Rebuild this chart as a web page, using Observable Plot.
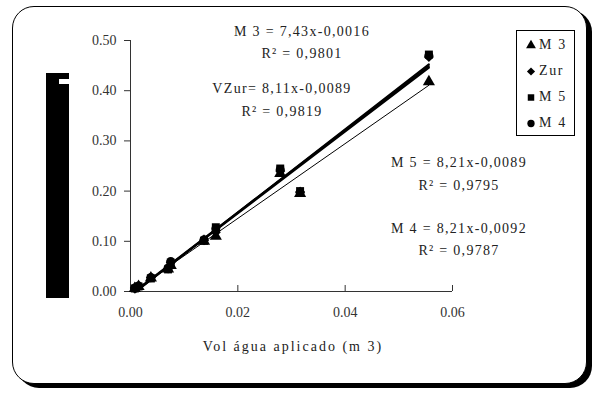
<!DOCTYPE html>
<html><head><meta charset="utf-8">
<script src="https://cdn.jsdelivr.net/npm/d3@7"></script>
<script src="https://cdn.jsdelivr.net/npm/@observablehq/plot@0.6"></script>
<style>
html,body{margin:0;padding:0;background:#fff;}
#wrap{position:relative;width:598px;height:394px;overflow:hidden;font-family:"Liberation Serif","DejaVu Serif","Times New Roman",serif;}
#frame{position:absolute;left:12px;top:6px;width:573px;height:376px;border:1.5px solid #000;border-radius:22px;box-shadow:5px 4px 0 #000;background:#fff;}
#block{position:absolute;left:46px;top:73px;width:23px;height:225px;background:#000;}
#notch{position:absolute;left:59px;top:79px;width:10px;height:5px;background:#fff;}
#chart{position:absolute;left:0;top:0;}
.lbl{position:absolute;transform:translate(-50%,-50%);white-space:nowrap;font-size:14px;letter-spacing:1.3px;color:#222;}
#legend{position:absolute;left:516px;top:30px;width:57px;height:104px;border:1px solid #000;background:#fff;}
.li{position:absolute;left:8px;font-size:14px;letter-spacing:1.6px;color:#222;display:flex;align-items:center;transform:translateY(-50%);}
.li svg{margin-right:2px;}
</style></head>
<body>
<div id="wrap">
  <div id="frame"></div>
  <div id="block"></div><div id="notch"></div>
  <div id="chart"></div>
  <div id="legend"></div>
</div>
<script>
// ---- data ----
const series = ["M 3", "Zur", "M 5", "M 4"];
const symbols = ["triangle", "diamond2", "square", "circle"];
const volume = [0.0008, 0.0015, 0.0038, 0.0070, 0.0075, 0.0137, 0.0159, 0.0279, 0.0316, 0.0556];
const m3  = [0.006, 0.010, 0.027, 0.045, 0.052, 0.100, 0.110, 0.235, 0.195, 0.418];
const zur = [0.007, 0.011, 0.028, 0.046, 0.058, 0.102, 0.118, 0.240, 0.198, 0.467];
const m5  = [0.006, 0.010, 0.026, 0.044, 0.055, 0.101, 0.128, 0.245, 0.200, 0.472];
const m4  = [0.007, 0.011, 0.028, 0.047, 0.060, 0.103, 0.125, 0.243, 0.197, 0.470];
const xTicks = [0, 0.02, 0.04, 0.06];
const yTicks = [0, 0.1, 0.2, 0.3, 0.4, 0.5];
const equations = [
  "M 3 = 7,43x-0,0016", "R² = 0,9801",
  "VZur= 8,11x-0,0089", "R² = 0,9819",
  "M 5 = 8,21x-0,0089", "R² = 0,9795",
  "M 4 = 8,21x-0,0092", "R² = 0,9787"
];
const xLabel = "Vol água aplicado (m 3)";

const values = [m3, zur, m5, m4];
const rows = [];
series.forEach((s, i) => volume.forEach((v, j) => rows.push({series: s, x: v, y: values[i][j]})));

const fmt = d => d.toFixed(2);
const font = "'Liberation Serif', 'DejaVu Serif', 'Times New Roman', serif";
const chart = Plot.plot({
  width: 598, height: 394,
  marginLeft: 130, marginRight: 146, marginTop: 40, marginBottom: 103,
  style: {background: "transparent", fontFamily: font, fontSize: "14px", color: "#333"},
  x: {domain: [0, 0.06]},
  y: {domain: [0, 0.5]},
  symbol: {domain: series, range: symbols},
  marks: [
    Plot.axisY({ticks: yTicks, tickSize: 6, tickPadding: 8, tickFormat: fmt, label: null, stroke: "#333", style: {letterSpacing: "1.8px"}}),
    Plot.axisX({ticks: xTicks, tickSize: 6, dy: -6, text: null, label: null, stroke: "#333"}),
    Plot.axisX({ticks: xTicks, tickSize: 0, tickPadding: 16, tickFormat: fmt, label: null, style: {letterSpacing: "1.8px"}}),
    Plot.ruleX([0], {stroke: "#333"}),
    Plot.ruleY([0], {stroke: "#333"}),
    Plot.linearRegressionY(rows.filter(d => d.series !== "M 3"), {x: "x", y: "y", z: "series", ci: 0, stroke: "#000", strokeWidth: 2}),
    Plot.linearRegressionY(rows.filter(d => d.series === "M 3"), {x: "x", y: "y", ci: 0, stroke: "#000", strokeWidth: 1}),
    Plot.dot(rows, {x: "x", y: "y", symbol: "series", fill: "#000", r: 4.5})
  ]
});
document.getElementById("chart").appendChild(chart);

// annotations
const wrap = document.getElementById("wrap");
const spots = [[302,32],[302,54],[282,89],[282,112],[459,163],[459,186],[459,229],[459,251]];
equations.forEach((t, i) => {
  const d = document.createElement("div");
  d.className = "lbl"; d.textContent = t;
  d.style.left = spots[i][0] + "px"; d.style.top = spots[i][1] + "px";
  wrap.appendChild(d);
});
const xl = document.createElement("div");
xl.className = "lbl"; xl.textContent = xLabel;
xl.style.left = "293px"; xl.style.top = "347px"; xl.style.letterSpacing = "2px";
wrap.appendChild(xl);

// legend
const legend = document.getElementById("legend");
const types = {triangle: d3.symbolTriangle, diamond2: d3.symbolDiamond2, square: d3.symbolSquare, circle: d3.symbolCircle};
series.forEach((s, i) => {
  const item = document.createElement("div");
  item.className = "li";
  item.style.top = (14 + i * 26) + "px";
  const svg = d3.create("svg").attr("width", 12).attr("height", 12);
  svg.append("path").attr("transform", "translate(6,6.5)").attr("d", d3.symbol(types[symbols[i]], 42)()).attr("fill", "#000");
  item.appendChild(svg.node());
  const sp = document.createElement("span"); sp.textContent = s;
  item.appendChild(sp);
  legend.appendChild(item);
});
</script>
</body></html>
